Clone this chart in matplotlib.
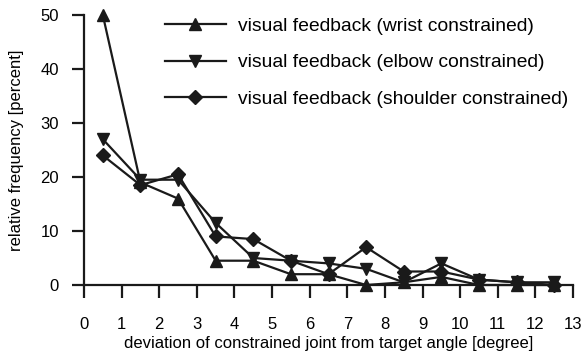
import matplotlib
matplotlib.use("Agg")
import matplotlib.pyplot as plt

plt.rcParams['font.family'] = ['Liberation Sans', 'DejaVu Sans']

x = [0.5, 1.5, 2.5, 3.5, 4.5, 5.5, 6.5, 7.5, 8.5, 9.5, 10.5, 11.5, 12.5]
wrist = [50, 19, 16, 4.5, 4.5, 2, 2, 0, 0.5, 1.5, 0, 0, 0]
elbow = [27, 19.5, 19.5, 11.5, 5, 4.5, 4, 3, 0.5, 4, 1, 0.5, 0.5]
shoulder = [24, 18.5, 20.5, 9, 8.5, 4.5, 2, 7, 2.5, 2.5, 1, 0.5, 0]
labels = ["visual feedback (wrist constrained)",
          "visual feedback (elbow constrained)",
          "visual feedback (shoulder constrained)"]

fig = plt.figure(figsize=(5.82, 3.56), dpi=100)
ax = fig.add_axes([84/582, 1-285/356, 489/582, 270/356])
c = '#1a1a1a'
ax.plot(x, wrist, marker='^', color=c, lw=1.6, ms=8.5, label=labels[0], clip_on=False)
ax.plot(x, elbow, marker='v', color=c, lw=1.6, ms=8.5, label=labels[1], clip_on=False)
ax.plot(x, shoulder, marker='D', color=c, lw=1.6, ms=7, label=labels[2], clip_on=False)

ax.set_xlim(0, 13)
ax.set_ylim(0, 50)
ax.set_xticks(range(0, 14))
ax.set_yticks(range(0, 51, 10))
ax.spines['top'].set_visible(False)
ax.spines['right'].set_visible(False)
for s in ('left', 'bottom'):
    ax.spines[s].set_linewidth(1.6)
    ax.spines[s].set_color(c)
ax.tick_params(axis='both', direction='out', length=9, width=1.6, color=c, labelsize=12)
ax.tick_params(axis='x', pad=14)
ax.tick_params(axis='y', pad=9)
ax.set_xlabel("deviation of constrained joint from target angle [degree]", fontsize=12, labelpad=3)
ax.set_ylabel("relative frequency [percent]", fontsize=12, labelpad=12)
leg = fig.legend(loc='upper left', frameon=False, fontsize=13.9, handlelength=3.15,
                 handletextpad=0.65, labelspacing=1.0, borderpad=0, borderaxespad=0,
                 bbox_to_anchor=(165/582, 1-17/356))
fig.savefig("out.png", dpi=100)
